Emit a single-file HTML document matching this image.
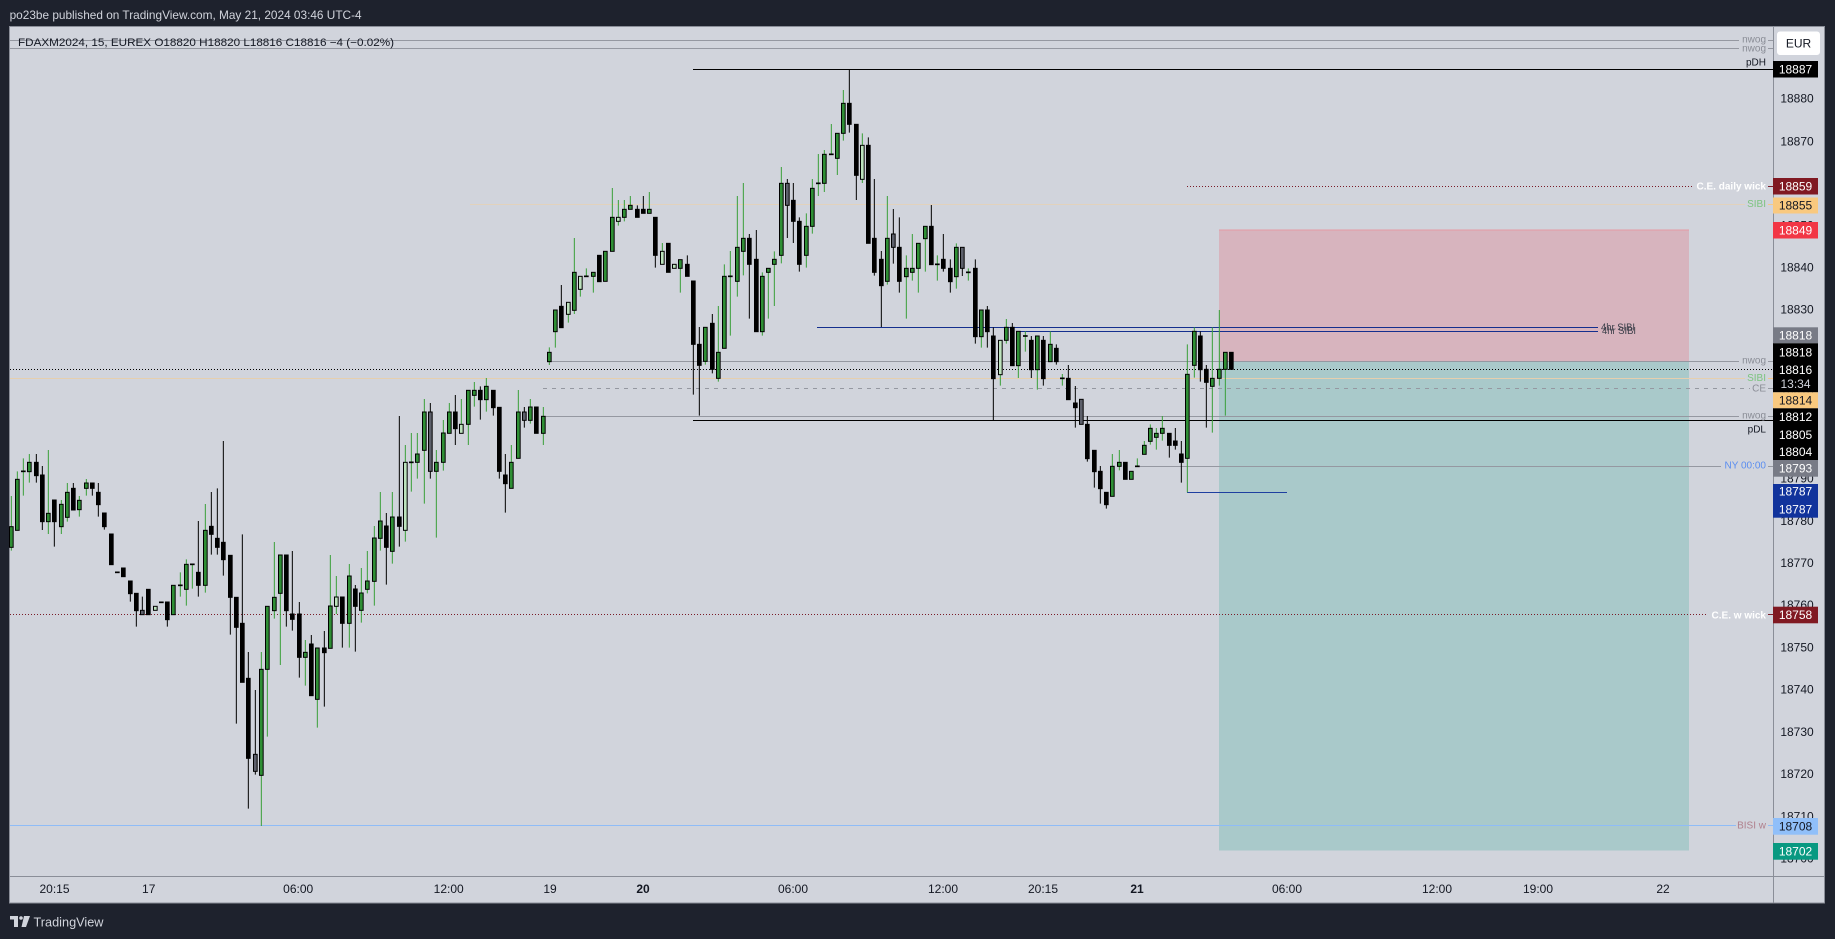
<!DOCTYPE html>
<html><head><meta charset="utf-8"><style>
html,body{margin:0;padding:0;background:#1e222d;width:1835px;height:939px;overflow:hidden}
svg{position:absolute;left:0;top:0;font-family:"Liberation Sans",Arial,sans-serif}
</style></head><body>
<svg width="1835" height="939" viewBox="0 0 1835 939" xmlns="http://www.w3.org/2000/svg">
<rect x="0" y="0" width="1835" height="939" fill="#1e222d"/>
<text x="9.6" y="15" font-size="12" fill="#d1d4dc" dominant-baseline="central" textLength="352" lengthAdjust="spacingAndGlyphs">po23be published on TradingView.com, May 21, 2024 03:46 UTC-4</text>
<rect x="9.5" y="26.5" width="1815" height="876.5" fill="#d1d4dc" stroke="#8a8e98" stroke-width="1"/>

<!-- boxes -->
<rect x="1219" y="229.5" width="470" height="132" fill="#d7b4be"/>
<line x1="1219" y1="230" x2="1689" y2="230" stroke="#e59aa4" stroke-width="1"/>
<rect x="1219" y="361.5" width="470" height="489" fill="#a9c9ca"/>

<!-- horizontal lines -->
<g fill="none" stroke-width="1">
<line x1="10" y1="40.5" x2="1739" y2="40.5" stroke="#9598a1"/>
<line x1="10" y1="48.5" x2="1739" y2="48.5" stroke="#9598a1"/>
<line x1="693" y1="69.5" x2="1773" y2="69.5" stroke="#000"/>
<line x1="1187" y1="186.5" x2="1694" y2="186.5" stroke="#7a1c28" stroke-dasharray="1 2"/>
<line x1="470" y1="204.5" x2="1745" y2="204.5" stroke="#e2d2bc"/>
<line x1="817" y1="327.5" x2="1598" y2="327.5" stroke="#142f8e"/>
<line x1="1020" y1="331.5" x2="1598" y2="331.5" stroke="#142f8e"/>
<line x1="551" y1="361.5" x2="1739" y2="361.5" stroke="#9598a1"/>
<line x1="10" y1="369.5" x2="1773" y2="369.5" stroke="#000" stroke-dasharray="1 2"/>
<line x1="10" y1="378.5" x2="1745" y2="378.5" stroke="#e6cfae"/>
<line x1="543" y1="388.5" x2="1750" y2="388.5" stroke="#9598a1" stroke-dasharray="4 5"/>
<line x1="545" y1="416.5" x2="1739" y2="416.5" stroke="#9598a1"/>
<line x1="693" y1="420.5" x2="1773" y2="420.5" stroke="#000"/>
<line x1="1138" y1="466.5" x2="1721" y2="466.5" stroke="#9598a1"/>
<line x1="1187" y1="492.5" x2="1287" y2="492.5" stroke="#1e3fa0"/>
<line x1="10" y1="614.5" x2="1708" y2="614.5" stroke="#7a1c28" stroke-dasharray="1 2"/>
<line x1="10" y1="825.5" x2="1736" y2="825.5" stroke="#8fbcf7"/>
<g stroke="#9598a1">
<line x1="1768" y1="40.5" x2="1773" y2="40.5"/><line x1="1768" y1="48.5" x2="1773" y2="48.5"/>
<line x1="1768" y1="361.5" x2="1773" y2="361.5"/><line x1="1768" y1="416.5" x2="1773" y2="416.5"/>
<line x1="1768" y1="466.5" x2="1773" y2="466.5"/><line x1="1768" y1="388.5" x2="1773" y2="388.5"/>
</g>
<line x1="1768" y1="186.5" x2="1773" y2="186.5" stroke="#7a1c28"/>
<line x1="1768" y1="614.5" x2="1773" y2="614.5" stroke="#7a1c28"/>
<line x1="1768" y1="204.5" x2="1773" y2="204.5" stroke="#f4c88a"/>
<line x1="1768" y1="378.5" x2="1773" y2="378.5" stroke="#f4c88a"/>
<line x1="1768" y1="825.5" x2="1773" y2="825.5" stroke="#8fbcf7"/>
</g>

<!-- Candles group A -->
<g transform="translate(0 430) scale(0.333333)">
<path fill="none" stroke="#38a038" stroke-width="3" d="M34 198V362M52 124V301M70 85V197M88 72V158M145 60V312M184 210V312M202 159V275M238 198V260M259 147V197M541 427V500M559 388V527M577 403V476M616 222V488M784 666V1188M802 529V920"/>
<path fill="none" stroke="#000" stroke-width="3" d="M109 72V158M127 108V300M163 210V350M220 159V240M277 159V197M295 159V260M313 249V299M391 453V515M409 490V590M427 500V554M502 516V590M595 273V500M634 186V374M652 175V374M670 33V437M691 376V614M709 502V881M727 313V757M745 666V1136M766 780V1034"/>
<g stroke="#000" stroke-width="3" fill="#2f8f35">
<rect x="28.5" y="290" width="11" height="62"/><rect x="46.5" y="148" width="11" height="153"/><rect x="64.5" y="123" width="11" height="2"/><rect x="82.5" y="97" width="11" height="28"/><rect x="139.5" y="250" width="11" height="25"/><rect x="178.5" y="223" width="11" height="67"/><rect x="196.5" y="187" width="11" height="75"/><rect x="232.5" y="211" width="11" height="28"/><rect x="253.5" y="159" width="11" height="16"/><rect x="514.5" y="466" width="11" height="88"/><rect x="535.5" y="465" width="11" height="2"/><rect x="553.5" y="403" width="11" height="75"/><rect x="571.5" y="402" width="11" height="2"/><rect x="610.5" y="301" width="11" height="165"/><rect x="778.5" y="718" width="11" height="318"/><rect x="796.5" y="529" width="11" height="189"/>
</g>
<g stroke="#000" stroke-width="3" fill="#000">
<rect x="103.5" y="97" width="11" height="40"/><rect x="121.5" y="135" width="11" height="140"/><rect x="157.5" y="210" width="11" height="65"/><rect x="214.5" y="175" width="11" height="65"/><rect x="271.5" y="159" width="11" height="16"/><rect x="289.5" y="187" width="11" height="37"/><rect x="307.5" y="249" width="11" height="41"/><rect x="328.5" y="312" width="11" height="92"/><rect x="346.5" y="426" width="11" height="2"/><rect x="364.5" y="414" width="11" height="26"/><rect x="385.5" y="453" width="11" height="38"/><rect x="403.5" y="490" width="11" height="52"/><rect x="439.5" y="478" width="11" height="76"/><rect x="478.5" y="516" width="11" height="2"/><rect x="496.5" y="516" width="11" height="53"/><rect x="589.5" y="427" width="11" height="39"/><rect x="628.5" y="289" width="11" height="24"/><rect x="646.5" y="325" width="11" height="27"/><rect x="664.5" y="337" width="11" height="52"/><rect x="685.5" y="376" width="11" height="126"/><rect x="703.5" y="502" width="11" height="90"/><rect x="721.5" y="580" width="11" height="177"/><rect x="739.5" y="745" width="11" height="240"/>
</g>
<g stroke="#000" stroke-width="3" fill="#bde3bd"><rect x="460.5" y="529" width="11" height="12"/></g>
<g stroke="#000" stroke-width="3" fill="#5d606b"><rect x="421.5" y="541" width="11" height="13"/><rect x="760.5" y="973" width="11" height="51"/></g>
</g>

<!-- Candles group B -->
<g transform="translate(270 340) scale(0.333333)">
<path fill="none" stroke="#38a038" stroke-width="3" d="M13 606V836M31 645V975M106 900V1037M142 924V1163M181 645V925M199 708V822M238 672V923M274 684V848M292 633V760M313 558V797M331 456V632M367 456V671M406 315V605M424 279V455M442 279V416M463 177V491M499 330V593M520 240V392M538 189V280M574 177V280M595 151V315M613 126V200M649 114V215M724 315V445M745 150V355M781 177V251M820 201V315"/>
<path fill="none" stroke="#000" stroke-width="3" d="M49 645V860M67 633V872M88 786V1013M124 885V1067M163 873V1100M217 771V923M256 735V935M349 519V734M388 228V620M481 189V416M556 165V315M631 139V239M670 151V227M688 202V416M706 342V518M763 201V263"/>
<g stroke="#000" stroke-width="3" fill="#2f8f35">
<rect x="7.5" y="772" width="11" height="40"/><rect x="25.5" y="645" width="11" height="115"/><rect x="100.5" y="937" width="11" height="15"/><rect x="136.5" y="924" width="11" height="154"/><rect x="175.5" y="798" width="11" height="127"/><rect x="232.5" y="708" width="11" height="142"/><rect x="268.5" y="759" width="11" height="52"/><rect x="286.5" y="723" width="11" height="25"/><rect x="307.5" y="594" width="11" height="130"/><rect x="325.5" y="543" width="11" height="52"/><rect x="361.5" y="531" width="11" height="103"/><rect x="418.5" y="366" width="11" height="2"/><rect x="436.5" y="342" width="11" height="25"/><rect x="457.5" y="216" width="11" height="115"/><rect x="493.5" y="367" width="11" height="27"/><rect x="514.5" y="279" width="11" height="88"/><rect x="532.5" y="216" width="11" height="64"/><rect x="589.5" y="151" width="11" height="102"/><rect x="607.5" y="151" width="11" height="15"/><rect x="643.5" y="139" width="11" height="40"/><rect x="718.5" y="367" width="11" height="78"/><rect x="739.5" y="216" width="11" height="139"/><rect x="775.5" y="201" width="11" height="40"/><rect x="814.5" y="229" width="11" height="51"/>
</g>
<g stroke="#000" stroke-width="3" fill="#000">
<rect x="43.5" y="645" width="11" height="167"/><rect x="61.5" y="822" width="11" height="16"/><rect x="82.5" y="822" width="11" height="130"/><rect x="118.5" y="912" width="11" height="155"/><rect x="157.5" y="924" width="11" height="14"/><rect x="211.5" y="771" width="11" height="79"/><rect x="250.5" y="747" width="11" height="52"/><rect x="343.5" y="558" width="11" height="64"/><rect x="382.5" y="531" width="11" height="28"/><rect x="550.5" y="216" width="11" height="50"/><rect x="625.5" y="151" width="11" height="28"/><rect x="664.5" y="151" width="11" height="52"/><rect x="682.5" y="202" width="11" height="192"/><rect x="700.5" y="405" width="11" height="26"/><rect x="793.5" y="201" width="11" height="79"/>
</g>
<g stroke="#000" stroke-width="3" fill="#bde3bd"><rect x="193.5" y="771" width="11" height="28"/><rect x="400.5" y="367" width="11" height="204"/><rect x="568.5" y="253" width="11" height="27"/></g>
<g stroke="#000" stroke-width="3" fill="#5d606b"><rect x="475.5" y="216" width="11" height="178"/><rect x="757.5" y="216" width="11" height="25"/></g>
</g>

<!-- Candles group C -->
<g transform="translate(540 60) scale(0.333333)">
<path fill="none" stroke="#38a038" stroke-width="3" d="M28 862V915M46 750V863M85 727V788M103 534V762M121 649V710M139 625V649M160 637V698M217 384V574M235 420V497M253 420V484M271 408V436M328 396V448M367 549V613M421 599V698M496 802V914M535 738V965M553 613V865M571 573V827M592 408V710M610 369V646M667 637V827M685 625V776M703 574V738M724 321V610M799 460V623M817 357V521M835 282V408M853 270V396M874 192V283M892 220V345M910 90V242M967 220V369M1042 408V674"/>
<path fill="none" stroke="#000" stroke-width="3" d="M64 675V803M292 436V472M310 408V460M346 472V623M442 586V649M460 663V1004M478 801V1067M517 762V940M628 522V776M649 510V815M742 357V534M760 369V549M778 472V635M928 28V218M949 193V420M985 232V550M1003 357V647M1024 573V801M1060 447V611M1078 472V698"/>
<g stroke="#000" stroke-width="3" fill="#2f8f35">
<rect x="22.5" y="877" width="11" height="28"/><rect x="40.5" y="750" width="11" height="65"/><rect x="97.5" y="637" width="11" height="114"/><rect x="133.5" y="648" width="11" height="2"/><rect x="154.5" y="637" width="11" height="12"/><rect x="190.5" y="574" width="11" height="90"/><rect x="211.5" y="472" width="11" height="102"/><rect x="247.5" y="448" width="11" height="24"/><rect x="265.5" y="436" width="11" height="12"/><rect x="322.5" y="448" width="11" height="12"/><rect x="415.5" y="599" width="11" height="26"/><rect x="490.5" y="802" width="11" height="102"/><rect x="529.5" y="877" width="11" height="78"/><rect x="547.5" y="649" width="11" height="216"/><rect x="565.5" y="648" width="11" height="2"/><rect x="586.5" y="562" width="11" height="102"/><rect x="604.5" y="535" width="11" height="39"/><rect x="661.5" y="649" width="11" height="166"/><rect x="679.5" y="625" width="11" height="12"/><rect x="697.5" y="598" width="11" height="15"/><rect x="718.5" y="370" width="11" height="216"/><rect x="793.5" y="499" width="11" height="87"/><rect x="811.5" y="385" width="11" height="114"/><rect x="829.5" y="369" width="11" height="2"/><rect x="847.5" y="283" width="11" height="87"/><rect x="868.5" y="282" width="11" height="2"/><rect x="886.5" y="220" width="11" height="75"/><rect x="904.5" y="130" width="11" height="90"/><rect x="1036.5" y="535" width="11" height="129"/>
</g>
<g stroke="#000" stroke-width="3" fill="#000">
<rect x="58.5" y="739" width="11" height="64"/><rect x="172.5" y="586" width="11" height="79"/><rect x="286.5" y="448" width="11" height="24"/><rect x="304.5" y="448" width="11" height="12"/><rect x="340.5" y="472" width="11" height="114"/><rect x="379.5" y="550" width="11" height="87"/><rect x="436.5" y="613" width="11" height="36"/><rect x="454.5" y="663" width="11" height="190"/><rect x="472.5" y="853" width="11" height="63"/><rect x="511.5" y="790" width="11" height="138"/><rect x="622.5" y="535" width="11" height="78"/><rect x="643.5" y="598" width="11" height="217"/><rect x="754.5" y="421" width="11" height="63"/><rect x="772.5" y="484" width="11" height="129"/><rect x="922.5" y="130" width="11" height="63"/><rect x="943.5" y="193" width="11" height="153"/><rect x="979.5" y="256" width="11" height="294"/><rect x="997.5" y="535" width="11" height="102"/><rect x="1018.5" y="598" width="11" height="79"/><rect x="1072.5" y="562" width="11" height="102"/>
</g>
<g stroke="#000" stroke-width="3" fill="#bde3bd"><rect x="79.5" y="727" width="11" height="36"/><rect x="115.5" y="649" width="11" height="39"/><rect x="229.5" y="472" width="11" height="12"/><rect x="361.5" y="574" width="11" height="39"/><rect x="397.5" y="613" width="11" height="12"/><rect x="961.5" y="256" width="11" height="102"/></g>
<g stroke="#000" stroke-width="3" fill="#5d606b"><rect x="736.5" y="370" width="11" height="66"/><rect x="1054.5" y="522" width="11" height="40"/></g>
</g>

<!-- Candles group D -->
<g transform="translate(890 170) scale(0.333333)">
<path fill="none" stroke="#38a038" stroke-width="3" d="M49 256V446M67 192V332M85 220V368M106 169V305M142 256V332M199 220V356M235 295V332"/>
<path fill="none" stroke="#000" stroke-width="3" d="M124 105V284M160 192V305M181 268V368M217 232V318"/>
<g stroke="#000" stroke-width="3" fill="#2f8f35"><rect x="43.5" y="295" width="11" height="25"/><rect x="61.5" y="295" width="11" height="12"/><rect x="79.5" y="220" width="11" height="75"/><rect x="100.5" y="169" width="11" height="37"/><rect x="136.5" y="282" width="11" height="2"/><rect x="193.5" y="232" width="11" height="88"/><rect x="229.5" y="306" width="11" height="2"/></g>
<g stroke="#000" stroke-width="3" fill="#000"><rect x="118.5" y="169" width="11" height="115"/><rect x="154.5" y="268" width="11" height="27"/><rect x="175.5" y="295" width="11" height="40"/></g>
<g stroke="#000" stroke-width="3" fill="#5d606b"><rect x="211.5" y="232" width="11" height="63"/></g>
</g>

<!-- Candles group E -->
<g transform="translate(880 300) scale(0.333333)">
<path fill="none" stroke="#38a038" stroke-width="3" d="M304 30V143M361 121V257M379 57V131M415 94V234M436 94V155M472 108V269M511 94V185M547 222V257M697 462V589M718 450V511M772 475V499M793 423V463M811 373V434M829 384V449M847 348V422M922 133V577M943 82V233M997 82V398M1018 30V257M1036 157V347"/>
<path fill="none" stroke="#000" stroke-width="3" d="M286 -122V131M322 18V143M340 82V360M397 69V197M454 108V234M490 108V257M529 133V194M565 195V299M586 258V383M622 348V485M643 451V563M661 498V611M679 577V626M868 400V473M886 384V449M904 423V548M961 94V245M979 195V383"/>
<g stroke="#000" stroke-width="3" fill="#2f8f35">
<rect x="298.5" y="30" width="11" height="80"/><rect x="373.5" y="82" width="11" height="39"/><rect x="409.5" y="94" width="11" height="103"/><rect x="430.5" y="107" width="11" height="2"/><rect x="466.5" y="108" width="11" height="101"/><rect x="505.5" y="133" width="11" height="52"/><rect x="541.5" y="234" width="11" height="2"/><rect x="691.5" y="499" width="11" height="90"/><rect x="712.5" y="487" width="11" height="12"/><rect x="748.5" y="514" width="11" height="24"/><rect x="766.5" y="498" width="11" height="2"/><rect x="787.5" y="436" width="11" height="27"/><rect x="805.5" y="385" width="11" height="39"/><rect x="823.5" y="400" width="11" height="12"/><rect x="841.5" y="385" width="11" height="15"/><rect x="916.5" y="223" width="11" height="252"/><rect x="937.5" y="94" width="11" height="102"/><rect x="991.5" y="235" width="11" height="24"/><rect x="1012.5" y="208" width="11" height="27"/><rect x="1030.5" y="157" width="11" height="51"/>
</g>
<g stroke="#000" stroke-width="3" fill="#000">
<rect x="280.5" y="-95" width="11" height="205"/><rect x="316.5" y="30" width="11" height="65"/><rect x="334.5" y="108" width="11" height="128"/><rect x="391.5" y="82" width="11" height="115"/><rect x="448.5" y="121" width="11" height="88"/><rect x="484.5" y="121" width="11" height="115"/><rect x="523.5" y="145" width="11" height="40"/><rect x="559.5" y="235" width="11" height="64"/><rect x="580.5" y="309" width="11" height="14"/><rect x="616.5" y="373" width="11" height="103"/><rect x="637.5" y="451" width="11" height="64"/><rect x="655.5" y="514" width="11" height="52"/><rect x="673.5" y="577" width="11" height="37"/><rect x="730.5" y="487" width="11" height="51"/><rect x="862.5" y="400" width="11" height="36"/><rect x="880.5" y="423" width="11" height="13"/><rect x="898.5" y="462" width="11" height="25"/><rect x="955.5" y="108" width="11" height="101"/><rect x="973.5" y="208" width="11" height="39"/><rect x="1048.5" y="157" width="11" height="51"/>
</g>
<g stroke="#000" stroke-width="3" fill="#bde3bd"><rect x="355.5" y="121" width="11" height="103"/></g>
<g stroke="#000" stroke-width="3" fill="#5d606b"><rect x="598.5" y="298" width="11" height="75"/></g>
</g>

<!-- legend -->
<text x="18" y="43" font-size="11" fill="#131722" dominant-baseline="central" textLength="376" lengthAdjust="spacingAndGlyphs">FDAXM2024, 15, EUREX  O18820  H18820  L18816  C18816  −4 (−0.02%)</text>

<!-- on-chart right labels -->
<g font-size="10" text-anchor="end" dominant-baseline="central">
<text x="1766" y="40" fill="#8a8d96">nwog</text>
<text x="1766" y="49" fill="#8a8d96">nwog</text>
<text x="1766" y="63" fill="#131722">pDH</text>
<text x="1766" y="187" fill="#ffffff" font-weight="bold">C.E. daily wick</text>
<text x="1766" y="204.5" fill="#7cc47f">SIBI</text>
<text x="1766" y="361" fill="#8a8d96">nwog</text>
<text x="1766" y="378.5" fill="#7cc47f">SIBI</text>
<text x="1766" y="389" fill="#8a8d96">CE</text>
<text x="1766" y="416" fill="#8a8d96">nwog</text>
<text x="1766" y="430" fill="#131722">pDL</text>
<text x="1766" y="466" fill="#5b8ef0">NY 00:00</text>
<text x="1766" y="616" fill="#ffffff" font-weight="bold">C.E. w wick</text>
<text x="1766" y="826" fill="#b07f8c">BISI w</text>
</g>
<g font-size="10" fill="#3c3f4a" dominant-baseline="central">
<text x="1601" y="328" textLength="34" lengthAdjust="spacingAndGlyphs">4hr SIBI</text>
<text x="1602" y="331.5" textLength="34" lengthAdjust="spacingAndGlyphs">4hr SIBI</text>
</g>

<!-- axes separators -->
<line x1="1773.5" y1="27" x2="1773.5" y2="903" stroke="#8a8e98" stroke-width="1"/>
<line x1="10" y1="876.5" x2="1824" y2="876.5" stroke="#8a8e98" stroke-width="1"/>

<!-- price axis ticks -->
<g font-size="12" fill="#131722" text-anchor="middle" dominant-baseline="central">
<text x="1797" y="98.7">18880</text><text x="1797" y="141.3">18870</text><text x="1797" y="183.1">18860</text><text x="1797" y="225.3">18850</text><text x="1797" y="267.5">18840</text><text x="1797" y="309.7">18830</text><text x="1797" y="352">18820</text><text x="1797" y="394.2">18810</text><text x="1797" y="436.4">18800</text><text x="1797" y="478.6">18790</text><text x="1797" y="520.8">18780</text><text x="1797" y="563">18770</text><text x="1797" y="605.2">18760</text><text x="1797" y="647.5">18750</text><text x="1797" y="689.7">18740</text><text x="1797" y="731.9">18730</text><text x="1797" y="774.1">18720</text><text x="1797" y="816.3">18710</text><text x="1797" y="858.5">18700</text>
</g>

<!-- price axis label boxes -->
<rect x="1777" y="31.5" width="43" height="23.5" rx="3" fill="#ffffff"/>
<rect x="1773" y="61" width="45" height="16.5" fill="#000"/>
<rect x="1773" y="178" width="45" height="16.5" fill="#801922"/>
<rect x="1773" y="197.5" width="45" height="16" fill="#f9c97f"/>
<rect x="1773" y="222" width="45" height="16.5" fill="#f23645"/>
<rect x="1773" y="327.3" width="45" height="16" fill="#787b86"/>
<rect x="1773" y="343.3" width="45" height="49" fill="#000"/>
<rect x="1773" y="392.3" width="45" height="16" fill="#f9c97f"/>
<rect x="1773" y="408.3" width="45" height="51.7" fill="#000"/>
<rect x="1773" y="460" width="45" height="16.7" fill="#787b86"/>
<rect x="1773" y="484" width="45" height="33.7" fill="#11339c"/>
<rect x="1773" y="606.7" width="45" height="16.6" fill="#801922"/>
<rect x="1773" y="818" width="45" height="16.7" fill="#90bff9"/>
<rect x="1773" y="843" width="45" height="16.7" fill="#089981"/>
<g font-size="12" text-anchor="middle" dominant-baseline="central">
<text x="1798.5" y="43.5" fill="#131722">EUR</text>
<text x="1795.5" y="69.3" fill="#fff">18887</text>
<text x="1795.5" y="186.3" fill="#fff">18859</text>
<text x="1795.5" y="205.5" fill="#131722">18855</text>
<text x="1795.5" y="230.3" fill="#fff">18849</text>
<text x="1795.5" y="335.3" fill="#fff">18818</text>
<text x="1795.5" y="352.3" fill="#fff">18818</text>
<text x="1795.5" y="370" fill="#fff">18816</text>
<text x="1795.5" y="384" fill="#d1d4dc">13:34</text>
<text x="1795.5" y="400.3" fill="#131722">18814</text>
<text x="1795.5" y="417" fill="#fff">18812</text>
<text x="1795.5" y="435" fill="#fff">18805</text>
<text x="1795.5" y="452" fill="#fff">18804</text>
<text x="1795.5" y="468.3" fill="#fff">18793</text>
<text x="1795.5" y="491.3" fill="#fff">18787</text>
<text x="1795.5" y="509.3" fill="#fff">18787</text>
<text x="1795.5" y="615" fill="#fff">18758</text>
<text x="1795.5" y="826.3" fill="#131722">18708</text>
<text x="1795.5" y="851.3" fill="#fff">18702</text>
</g>

<!-- time axis -->
<g font-size="12" fill="#131722" text-anchor="middle" dominant-baseline="central">
<text x="54.5" y="889">20:15</text>
<text x="148.7" y="889">17</text>
<text x="298.2" y="889">06:00</text>
<text x="448.7" y="889">12:00</text>
<text x="550" y="889">19</text>
<text x="643" y="889" font-weight="bold">20</text>
<text x="793" y="889">06:00</text>
<text x="943" y="889">12:00</text>
<text x="1043" y="889">20:15</text>
<text x="1137" y="889" font-weight="bold">21</text>
<text x="1287" y="889">06:00</text>
<text x="1437" y="889">12:00</text>
<text x="1538" y="889">19:00</text>
<text x="1663" y="889">22</text>
</g>

<!-- footer logo -->
<g fill="#d1d4dc">
<rect x="10" y="916" width="8" height="3.5"/>
<rect x="14" y="916" width="4" height="11"/>
<circle cx="21" cy="918" r="1.8"/>
<polygon points="24,916 30,916 26,927 21.5,927"/>
</g>
<text x="33.5" y="922" font-size="13" fill="#d1d4dc" dominant-baseline="central" textLength="70" lengthAdjust="spacingAndGlyphs">TradingView</text>
</svg>
</body></html>
